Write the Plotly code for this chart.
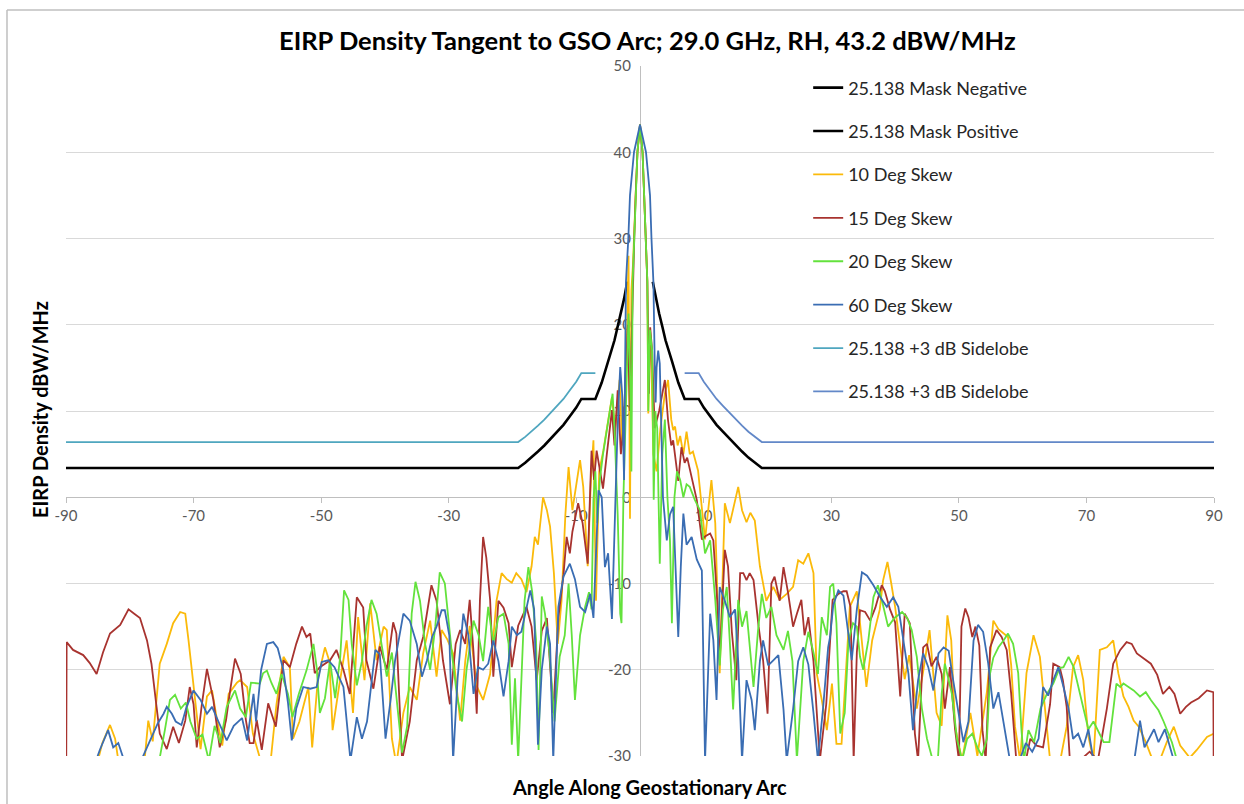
import plotly.graph_objects as go

# ---------------- data ----------------
mask_neg_angle = [-90, -19.1, -18, -17, -16, -15, -14, -13, -12, -11, -10, -9.2, -7, -6, -5, -4, -3.5, -3, -2.5, -2]
mask_neg_eirp = [3.4, 3.4, 4.0, 4.6, 5.3, 6.0, 6.8, 7.6, 8.4, 9.4, 10.4, 11.4, 11.4, 13.3, 15.8, 18.2, 19.8, 21.3, 23.0, 25.0]

mask_pos_angle = [2, 2.5, 3, 3.5, 4, 5, 6, 7, 9.2, 10, 11, 12, 13, 14, 15, 16, 17, 18, 19.1, 90]
mask_pos_eirp = [25.0, 23.0, 21.3, 19.8, 18.2, 15.8, 13.3, 11.4, 11.4, 10.4, 9.4, 8.4, 7.6, 6.8, 6.0, 5.3, 4.6, 4.0, 3.4, 3.4]

side_neg_angle = [-90, -19.1, -18, -17, -16, -15, -14, -13, -12, -11, -10, -9.2, -7]
side_neg_eirp = [6.4, 6.4, 7.0, 7.6, 8.3, 9.0, 9.8, 10.6, 11.4, 12.4, 13.4, 14.4, 14.4]

side_pos_angle = [7, 9.2, 10, 11, 12, 13, 14, 15, 16, 17, 18, 19.1, 90]
side_pos_eirp = [14.4, 14.4, 13.4, 12.4, 11.4, 10.6, 9.8, 9.0, 8.3, 7.6, 7.0, 6.4, 6.4]

skew10_angle = [-90, -85.5, -84.3, -83.1, -82.3, -81.5, -78, -77.1, -76.4, -75.3, -74.2, -73.2, -72.1, -71.3, -70.8, -70.0,
                -69.5, -68.9, -67.9, -67.1, -66.3, -65.5, -64.5, -63.2, -62.7, -61.6, -60.7, -59.3, -57.9, -57.0, -55.9,
                -54.9, -54.4, -53.4, -52.0, -51.4, -50.5, -49.4, -48.7, -48.2, -47.2, -46.0, -45.0, -44.2, -43.2, -42.3,
                -41.3, -40.2, -39.7, -38.9, -38.2, -37.1, -36.1, -35.0, -34.0, -32.9, -31.9, -31.1, -30.2, -29.3, -28.2,
                -27.4, -26.7, -25.6, -24.6, -23.5, -22.5, -21.7, -20.9, -20.1, -19.4, -18.6, -17.8, -17.0, -16.5, -16.0,
                -15.2, -14.6, -14.1, -13.5, -12.9, -12.3, -11.7, -11.2, -10.6, -9.9, -9.4, -8.9, -8.2, -7.7, -7.3, -6.9,
                -6.4, -5.75, -5.2, -4.4, -3.9, -3.2, -2.8, -2.4, -2.0, -1.8, -1.57, -1.35, -1.1, -0.9, -0.68, -0.4, 0,
                0.4, 0.65, 0.94, 1.15, 1.3, 1.5, 1.8, 2.1, 2.6, 3.2, 3.9, 4.4, 4.9, 5.2, 5.5, 5.9, 6.3, 6.8, 7.3, 7.8,
                8.3, 9.1, 10.2, 11.2, 11.8, 12.5, 13.3, 14.1, 15.4, 16.0, 16.7, 17.3, 18.0, 18.8, 19.8, 20.9, 21.9, 23.0,
                24.0, 24.8, 25.6, 26.4, 27.2, 27.7, 28.5, 29.3, 30.1, 30.8, 31.6, 32.9, 34.0, 34.8, 35.5, 36.4, 37.6,
                38.1, 38.8, 39.4, 40.0, 40.6, 41.5, 42.2, 43.4, 44.4, 45.4, 46.5, 47.3, 48.2, 48.8, 49.4, 50.5, 51.8,
                52.9, 54.4, 55.4, 56.2, 57.7, 58.2, 58.8, 59.6, 60.6, 61.7, 62.7, 63.5, 64.3, 65.9, 66.9, 67.9, 68.7,
                69.5, 70.3, 71.1, 72.1, 73.2, 74.2, 75.0, 75.8, 76.6, 77.4, 78.2, 79.3, 80.4, 81.5, 82.6, 83.7, 84.7,
                85.6, 86.2, 87.3, 88.9, 90]
skew10_eirp = [-35, -32, -28.5, -26.4, -28, -32, -33, -25.9, -28.3, -19.3, -17.0, -14.6, -13.3, -13.5, -16.5, -21.6,
               -25.1, -29.2, -23.1, -22.4, -25.9, -28.8, -22.8, -21.5, -21.2, -22, -27.4, -31, -30.5, -24, -18.5,
               -19.7, -28, -26, -22, -29, -21, -17.4, -19, -27, -22, -16.6, -25, -13.9, -21.2, -12.3,
               -18.9, -15.0, -15.4, -28, -31, -25, -22, -23.5, -18.1, -14.3, -20.8, -15.4, -16.5, -18.1, -25.9,
               -19, -14.9, -21.9, -23.5, -20.5, -12, -8.8, -9.5, -9.9, -8.8, -9.5, -11, -8, -4.6, -5.5,
               0.0, -1.5, -3.4, -8.8, -17, -12, -2, 3.5, -1.5, 2, 4.3, 1.2, -8, 2, 6.6, -12,
               3, 5.4, 8, 11.6, 8, 13.6, 6, 11, 20, 28, -2.5, 24, 27, 30, 35, 40, 43.2,
               40, 35, 30, 25, 9.7, 19, 15, 5, 3, 8, 12, 13.6, 9, 7.8, 8.2, 6, 7.1, 5, 7.6, 5,
               5.3, 3.1, -4.9, 2.0, -3, -20.4, -0.7, -3, 1.2, -1.5, -2.9, -1.8, -2.7, -8, -12, -10.4, -11.9, -11.2,
               -10.4, -7.3, -7.7, -6.5, -8.8, -20.4, -23.5, -27, -21.6, -28.6, -28.6, -12.7, -10.9, -16.6, -22, -16.6, -13,
               -9.7, -7.5, -10, -12.7, -16.2, -21.1, -18.3, -24.5, -20.2, -15.4, -25, -26.5, -13.7, -16.6, -26.6, -30.5, -25,
               -30, -22.5, -14.3, -15.3, -16.2, -19.5, -26.6, -30.5, -20.4, -16.0, -18.5, -24.5, -30.5, -30.5, -26.6, -19.7, -18.3,
               -21.2, -27.7, -30.5, -17.7, -17.4, -16.6, -20.4, -23.1, -24.3, -25.9, -26.6, -28.4, -30.5, -30.5, -28.4, -26.6, -28.8,
               -29.6, -30.2, -29.3, -27.8, -27.4]

skew15_angle = [-90, -89.9, -88.9, -87.3, -86.3, -85.2, -84.2, -83.1, -81.5, -80.2, -79.3, -78.4, -77.3, -76.6, -75.8,
                -75.3, -74.2, -73.2, -72.3, -71.3, -70.6, -70.0, -69.5, -68.7, -67.9, -66.9, -65.9, -64.9, -64.3, -63.5,
                -62.6, -61.8, -61.2, -60.6, -60.1, -59.3, -58.3, -57.1, -55.9, -54.9, -53.9, -53.0, -52.3, -51.7, -51.0,
                -50.2, -48.6, -47.6, -46.5, -45.5, -44.4, -43.4, -42.9, -41.8, -40.8, -39.7, -38.7, -38.2, -37.3, -36.1,
                -35.0, -34.0, -32.7, -31.9, -30.9, -29.8, -28.9, -28.2, -27.4, -26.7, -26.1, -25.6, -25.1, -24.6, -24.1,
                -23.5, -23.0, -22.2, -21.4, -20.6, -20.1, -19.1, -17.8, -17.0, -16.2, -15.4, -14.6, -13.6, -12.8, -12.0,
                -11.5, -11.0, -10.6, -9.7, -9.0, -8.2, -7.6, -7.2, -6.8, -6.3, -5.8, -5.2, -4.4, -4.0, -3.5, -3.0, -2.6,
                -2.2, -1.9, -1.6, -1.15, -0.9, -0.68, -0.4, 0, 0.4, 0.65, 0.94, 1.15, 1.4, 1.6, 1.9, 2.3, 3.0, 3.5, 3.9,
                4.4, 4.9, 5.2, 6.0, 6.5, 7.0, 7.4, 8.1, 8.9, 9.7, 10.3, 11.0, 11.5, 12.1, 12.5, 13.3, 13.8, 14.4, 15.1,
                15.7, 16.2, 16.7, 17.2, 17.8, 18.6, 19.3, 20.0, 20.6, 21.1, 21.9, 22.5, 23.2, 24.0, 24.6, 25.3, 25.8,
                26.4, 27.2, 28.2, 29.2, 30.2, 31.1, 31.9, 32.4, 33.0, 33.5, 34.0, 34.5, 35.3, 36.1, 36.9, 37.9, 38.4,
                39.2, 40.0, 40.8, 41.5, 42.3, 43.1, 43.6, 44.4, 45.0, 45.7, 46.5, 47.3, 47.8, 48.6, 49.4, 50.0, 50.4,
                51.0, 51.5, 52.1, 52.6, 53.2, 53.7, 54.2, 54.9, 55.9, 56.7, 57.5, 58.2, 59.0, 60.5, 61.2, 62.2, 63.2,
                64.3, 64.8, 65.8, 66.3, 66.9, 67.4, 69.0, 70.5, 71.8, 73.2, 74.2, 75.3, 76.3, 77.1, 77.9, 79.0, 80.1,
                81.1, 82.0, 83.0, 83.8, 84.7, 85.6, 86.4, 87.6, 88.9, 89.9, 90]
skew15_eirp = [-40, -16.8, -17.7, -18.3, -19.2, -20.5, -18, -15.8, -14.8, -13.0, -13.5, -14.0, -16.6, -19.3, -24.3,
               -27.4, -29.2, -26.6, -28.5, -25.9, -22, -24, -29, -24, -19.9, -23.5, -29, -25.8, -22.6, -18.7,
               -20.5, -25.8, -28.5, -28.5, -25.8, -29.3, -23.9, -26.6, -18.9, -19.7, -17, -15.0, -16.2, -15.8, -20.4,
               -19.7, -18.9, -17.7, -20, -22.8, -11.6, -12.8, -18.9, -22.2, -17.3, -20, -14.5, -15.8, -30.5, -26,
               -18.9, -16.2, -10.2, -12, -18.9, -24, -17, -15.4, -17, -11.9, -18, -25.1, -12, -4.6, -7,
               -11.9, -20.8, -12, -12.8, -14.6, -19.7, -14.9, -12.7, -15, -21.2, -15.5, -14, -25, -14, -9,
               -4.6, -6.5, -4, -0.7, -3, -7.7, 5.4, 2, 5.4, 3, 1, 5, 10.1, 6, 12.4, 5, 8,
               15, 20, 10, 25, 30, 35, 40, 43.2, 40, 35, 30, 25, 12, 19.7, 17, 8, 10, 12, 13.6,
               8.9, 6, 6.6, 1.9, 5.8, 4, 4.6, 2.4, -0.3, -4.9, -4.5, -4.2, -5, -11.9, -18.8, -6.1, -8, -15.6, -21.2,
               -8.8, -8.8, -9.6, -8.8, -9.6, -15, -18.9, -25.1, -10, -9.2, -12, -8.1, -11, -15, -13.5, -11.9, -16,
               -13.9, -19, -30.5, -24, -11.9, -11.2, -10.9, -10.9, -12.7, -30.5, -18, -13.1, -13.3, -14.3, -12.8, -10.2, -10.9,
               -13, -14.5, -23.1, -13.5, -14.6, -27.4, -30.5, -17.4, -17, -19.6, -18.5, -20.5, -24.5, -19.7, -26.9, -30.5, -15.0,
               -12.9, -13.9, -16.2, -15, -17.2, -27, -30.5, -17.4, -15.4, -16.2, -17.7, -22.8, -30.5, -30.5, -28, -28.8, -29,
               -24, -19.3, -19.7, -21.2, -24.3, -30.5, -30.5, -29.5, -30.5, -24.5, -19.3, -17.7, -16.8, -17.0, -18.1, -18.7, -19.3,
               -20.6, -22.8, -22.0, -22.8, -25.1, -24.3, -23.8, -23.3, -22.4, -22.6, -40]

skew20_angle = [-90, -76, -74.5, -73.7, -72.9, -72.0, -71.2, -70.5, -69.5, -68.6, -67.6, -66.7, -65.8, -64.8, -63.5,
                -62.7, -61.8, -61.0, -59.6, -59.1, -58.5, -57.8, -57.0, -56.2, -55.2, -54.5, -53.5, -52.3, -51.2, -50.7,
                -50.2, -49.4, -48.6, -47.8, -47.0, -46.4, -45.7, -45.2, -44.4, -43.6, -42.9, -42.1, -41.3, -40.5, -39.7,
                -38.9, -38.1, -37.3, -36.5, -35.8, -35.2, -34.5, -33.7, -32.9, -32.1, -31.4, -30.6, -29.9, -29.5, -28.7,
                -27.9, -27.2, -26.1, -25.3, -24.6, -23.8, -23.0, -22.2, -21.4, -20.6, -20.1, -19.6, -19.1, -18.1, -17.5,
                -16.9, -16.3, -15.9, -15.4, -14.9, -14.2, -13.4, -12.6, -11.8, -11.2, -10.7, -10.2, -9.4, -8.6, -8.0,
                -7.6, -7.3, -7.0, -6.7, -6.3, -5.8, -5.2, -4.7, -4.3, -4.0, -3.5, -3.1, -2.9, -2.6, -2.2, -1.8, -1.55,
                -1.35, -1.15, -0.9, -0.68, -0.4, 0, 0.4, 0.65, 0.94, 1.15, 1.3, 1.55, 1.9, 2.15, 2.4, 2.7, 3.1, 3.5,
                3.9, 4.3, 4.7, 5.0, 5.4, 5.8, 6.3, 6.8, 7.3, 7.8, 8.6, 9.4, 10.2, 11.0, 11.8, 12.5, 13.0, 13.6, 14.1,
                14.6, 15.4, 16.0, 16.7, 17.2, 17.8, 18.5, 19.1, 19.8, 20.6, 21.4, 22.5, 23.2, 23.9, 24.6, 25.6, 26.4,
                27.2, 27.9, 28.5, 29.3, 29.8, 30.3, 30.8, 31.4, 32.1, 32.7, 33.4, 34.0, 34.5, 35.0, 35.8, 36.6, 37.3,
                38.1, 38.9, 39.9, 41.1, 41.9, 42.6, 43.4, 44.2, 45.0, 45.9, 46.7, 47.3, 47.8, 48.4, 48.9, 49.7, 50.5,
                51.3, 52.1, 52.9, 53.6, 54.4, 54.9, 55.4, 56.2, 57.0, 57.7, 58.5, 59.3, 59.8, 60.2, 60.9, 61.8, 62.8,
                63.8, 64.8, 65.8, 66.4, 67.2, 68.0, 68.7, 69.5, 70.3, 71.1, 71.9, 72.7, 73.6, 74.2, 74.7, 75.3, 75.8,
                76.6, 77.4, 78.4, 79.3, 80.1, 81.3, 82.1, 83.4, 84.2, 90]
skew20_eirp = [-35, -33, -27, -23.5, -22.9, -24.5, -23.8, -26, -28, -27.5, -30.5, -26.5, -28.5, -24.3, -22.4,
               -24.5, -25.5, -21.5, -21.6, -20.4, -20.1, -21.5, -22.8, -20.5, -22.8, -25.5, -22.8, -20.1, -17.0, -19.7,
               -25, -23.3, -19, -23.3, -18.5, -10.8, -11.9, -17, -21.8, -19, -15, -11.9, -13.5, -17, -20.8,
               -18, -23.5, -29.6, -26.5, -13.5, -9.8, -12, -17, -20, -15, -8.7, -10, -15.5, -18.1, -23,
               -26, -20, -14.3, -16, -19, -12.7, -17, -13.9, -13.5, -17, -28.7, -21, -30.5, -12, -8.1,
               -11, -16.5, -29.3, -11.5, -13.5, -18, -26, -18.5, -16, -10, -16, -23.5, -16, -12.7, -11,
               -13, -0.3, 3, -3, 2, 5, 8, 10, 12, 8, -2, -13.5, -14.6, 0, 12, 21.3, 14,
               3, 25, 30, 35, 40, 43.2, 40, 35, 30, 25, 10, 19.4, 17, -0.3, 10, 8, -7.7, 5,
               9, 0, -5, -14.6, 0, 3, 2, 0, 1.5, 1.2, -0.3, -1.5, -6.5, -5, -11.9, -19.5, -13, -10.4, -17,
               -24.6, -11.9, -15, -13.2, -17, -22, -15.5, -11.2, -14, -12.7, -16, -17.7, -15.5, -19, -30.5, -19, -15.6,
               -18, -20.5, -13.9, -16, -10.4, -10, -14.6, -27.4, -25, -16.6, -14.6, -15, -18.5, -20, -16.6, -11.6, -10.2,
               -12.5, -15, -14, -13.3, -14, -15.4, -18.5, -24.5, -28, -30.5, -30.5, -22.8, -19.3, -21.2, -22.8, -28, -30.5,
               -28, -27.4, -29, -30, -28, -20.4, -18.6, -17.4, -16.6, -15.8, -17, -20.4, -26.9, -30.5, -27, -28.4, -24.5,
               -22.8, -21.6, -19.8, -19.7, -18.5, -19.7, -21.9, -24.5, -26.9, -26, -27.2, -28.4, -28.4, -24.5, -21.6, -22, -21.6,
               -22.0, -22.4, -23.1, -22.6, -23.5, -24.7, -26, -28.4, -30.5, -38]

skew60_angle = [-90, -86, -84.7, -83.4, -82.6, -81.8, -80.9, -78.5, -77.3, -76.4, -75.6, -74.7, -74.2, -73.4, -72.8,
                -71.9, -71.1, -70.0, -68.9, -67.9, -67.1, -66.1, -64.8, -63.7, -62.4, -61.6, -60.6, -60.2, -59.4, -58.5,
                -57.5, -56.8, -55.9, -55.2, -54.6, -53.9, -52.8, -51.7, -50.7, -49.9, -48.9, -47.9, -46.5, -45.4, -44.4,
                -43.6, -42.8, -42.1, -41.5, -40.8, -39.9, -39.1, -38.4, -37.1, -36.1, -35.0, -34.2, -33.4, -32.6, -31.9,
                -31.1, -30.6, -29.9, -29.3, -28.6, -27.7, -26.9, -26.1, -25.4, -24.6, -23.8, -23.0, -22.2, -21.4, -20.6,
                -20.1, -19.3, -18.6, -17.8, -17.2, -16.6, -16.0, -15.4, -14.6, -14.1, -13.6, -12.8, -12.0, -11.0, -10.2,
                -9.4, -8.6, -7.8, -7.3, -6.5, -6.0, -5.5, -5.0, -4.4, -4.0, -3.6, -3.3, -3.1, -2.8, -2.5, -2.35, -2.2,
                -1.83, -1.57, -0.94, 0, 0.94, 1.57, 1.8, 2.1, 2.3, 2.45, 2.6, 2.85, 3.1, 3.3, 3.6, 4.2, 4.7, 5.2, 5.6,
                6.0, 6.4, 6.8, 7.3, 7.7, 8.1, 8.9, 9.7, 10.2, 11.0, 11.5, 12.0, 12.5, 13.3, 14.1, 14.9, 15.4, 16.0, 16.7,
                17.5, 18.0, 18.8, 19.3, 20.1, 20.9, 21.7, 22.5, 23.0, 24.0, 24.8, 25.6, 26.4, 27.2, 27.9, 28.7, 29.5,
                29.8, 30.3, 31.1, 31.9, 33.2, 34.0, 34.8, 35.6, 36.6, 37.6, 38.7, 39.7, 40.5, 41.3, 42.1, 42.8, 43.6,
                44.4, 45.2, 46.0, 46.8, 47.6, 48.4, 49.1, 49.9, 50.7, 51.5, 52.3, 53.0, 53.8, 54.6, 55.4, 56.2, 57.0,
                58.0, 59.5, 60.5, 61.5, 62.5, 63.2, 64.0, 64.8, 65.6, 66.4, 67.2, 67.9, 68.7, 69.5, 70.3, 71.1, 77.4,
                78.4, 79.1, 80.6, 81.3, 82.3, 83.1, 83.7, 90]
skew60_eirp = [-35, -32, -29.3, -27, -29, -28.5, -30.5, -31, -29, -27.5, -26.2, -25.1, -24.3, -25.1, -26,
               -26.4, -24.3, -22.4, -23.5, -25.1, -24.3, -26, -28.2, -26.5, -25.6, -28.2, -22.8, -26, -20, -17.0,
               -16.8, -17.5, -20.1, -23.8, -28.2, -24.5, -22, -22.2, -22, -19.1, -18.9, -19.7, -22, -30.5, -25.5,
               -28, -26, -21.5, -17.7, -18.2, -28, -23.5, -18.9, -13.5, -14.3, -17, -20.8, -18.9, -16.2, -15,
               -13.1, -13.1, -16, -30.5, -21, -13.5, -16, -22.8, -19.7, -20, -19.3, -16.6, -19, -23.1, -19,
               -15, -16, -15.6, -12.7, -10.8, -13, -28.7, -20, -15, -17, -30.5, -12.7, -9.2, -7.7, -9.5,
               -12.7, -13.3, -11.2, -14, 0.8, 0, -8.1, -6.5, -14.1, -3, 6, 12, 15.1, 12, 2, 14, 25,
               30, 35, 40, 43.2, 40, 35, 30, 25, 16, 11, 15, 17, 15.5, 8, 0, -5, -2, -1.1, -8,
               -16.2, -8, -1.9, -5.5, -5, -4.6, -7.2, -8.5, -30.5, -13.5, -16.6, -23.5, -10.4, -12, -13.9, -13, -19, -30.5, -21.2,
               -23.5, -27, -19, -16.6, -19.5, -18.9, -18.3, -24.6, -30.5, -24.6, -19, -17.4, -19.4, -25, -30.5, -24.5, -17.4,
               -16.2, -12.5, -10.8, -11.4, -18.9, -13, -8.7, -9.1, -10.2, -11.5, -12.7, -11.6, -12.7, -16.6, -20.5, -27, -21.2,
               -18.1, -19.7, -22.4, -18.1, -17.4, -17.8, -21.2, -25, -28.4, -26, -16.6, -14.8, -15.6, -19.3, -24.5, -22.6, -26,
               -30.5, -30.5, -28.5, -29.5, -28, -22, -23, -21.2, -19.7, -22, -24.5, -28, -27.4, -29, -26.9, -30.5, -31,
               -25.9, -29, -26.9, -28.4, -26.9, -29, -30.5, -36]

legend_names = ["25.138 Mask Negative", "25.138 Mask Positive", "10 Deg Skew", "15 Deg Skew",
                "20 Deg Skew", "60 Deg Skew", "25.138 +3 dB Sidelobe", "25.138 +3 dB Sidelobe"]

x_ticks = [-90, -70, -50, -30, -10, 10, 30, 50, 70, 90]
x_tick_labels = ["-90", "-70", "-50", "-30", "-10", "10", "30", "50", "70", "90"]
y_ticks = [-30, -20, -10, 0, 10, 20, 30, 40, 50]
y_tick_labels = ["-30", "-20", "-10", "0", "10", "20", "30", "40", "50"]

title_text = "EIRP Density Tangent to GSO Arc; 29.0 GHz, RH, 43.2 dBW/MHz"
x_title = "Angle Along Geostationary Arc"
y_title = "EIRP Density dBW/MHz"

# ---------------- figure ----------------
FONT = "Lato"
series = [
    (mask_neg_angle, mask_neg_eirp, legend_names[0], "#000000", 2.6),
    (mask_pos_angle, mask_pos_eirp, legend_names[1], "#000000", 2.6),
    (skew10_angle, skew10_eirp, legend_names[2], "#FBBA0A", 1.8),
    (skew15_angle, skew15_eirp, legend_names[3], "#A8332F", 1.8),
    (skew20_angle, skew20_eirp, legend_names[4], "#63E23C", 1.8),
    (skew60_angle, skew60_eirp, legend_names[5], "#3A6DB3", 1.8),
    (side_neg_angle, side_neg_eirp, legend_names[6], "#4FA6BF", 1.8),
    (side_pos_angle, side_pos_eirp, legend_names[7], "#6288C8", 1.8),
]

fig = go.Figure()
for i, (xs, ys, name, color, w) in enumerate(series):
    fig.add_trace(go.Scatter(x=xs, y=ys, mode="lines", name=name,
                             line=dict(color=color, width=w),
                             legendgroup=f"g{i}", cliponaxis=True))

fig.update_layout(
    width=1244, height=804,
    margin=dict(l=66, r=30, t=66, b=48),
    paper_bgcolor="white", plot_bgcolor="white",
    font=dict(family=FONT, color="#000000"),
    showlegend=True,
    legend=dict(x=0.6465, y=0.995, xanchor="left", yanchor="top",
                bgcolor="rgba(0,0,0,0)", borderwidth=0,
                font=dict(family=FONT, size=18, color="#262626"),
                itemwidth=30, tracegroupgap=17),
    xaxis=dict(range=[-90, 90], tickvals=x_ticks, ticktext=x_tick_labels, showgrid=False, zeroline=False,
               anchor="free", position=0.375, showline=True, linecolor="#BFBFBF", linewidth=1,
               ticks="outside", ticklen=5, tickcolor="#BFBFBF",
               tickfont=dict(family=FONT, size=15, color="#595959"),
               layer="below traces"),
    yaxis=dict(range=[-30, 50], tickvals=y_ticks, ticktext=y_tick_labels, showgrid=True,
               gridcolor="#D9D9D9", gridwidth=1,
               zeroline=False, anchor="free", position=0.5, showline=True, linecolor="#BFBFBF",
               linewidth=1, ticks="", tickfont=dict(family=FONT, size=15, color="#595959"),
               ticklabelstandoff=6, layer="below traces"),
    annotations=[
        dict(text="<b>" + title_text + "</b>", xref="paper", yref="paper", x=0.5065, y=1.037,
             xanchor="center", yanchor="middle", showarrow=False,
             font=dict(family=FONT, size=25.5, color="#000000")),
        dict(text="<b>" + x_title + "</b>", xref="paper", yref="paper", x=0.5087, y=-0.045,
             xanchor="center", yanchor="middle", showarrow=False,
             font=dict(family=FONT, size=20, color="#000000")),
        dict(text="<b>" + y_title + "</b>", xref="paper", yref="paper", x=-0.0226, y=0.5014,
             xanchor="center", yanchor="middle", showarrow=False, textangle=-90,
             font=dict(family=FONT, size=20, color="#000000")),
    ],
    shapes=[
        dict(type="line", xref="paper", yref="paper", x0=-0.0514, x1=-0.0514, y0=-0.08, y1=1.0812,
             line=dict(color="#BFBFBF", width=1.5)),
        dict(type="line", xref="paper", yref="paper", x0=-0.0514, x1=1.03, y0=1.0812, y1=1.0812,
             line=dict(color="#BFBFBF", width=1.5)),
    ],
)

fig.write_html("out.html")
